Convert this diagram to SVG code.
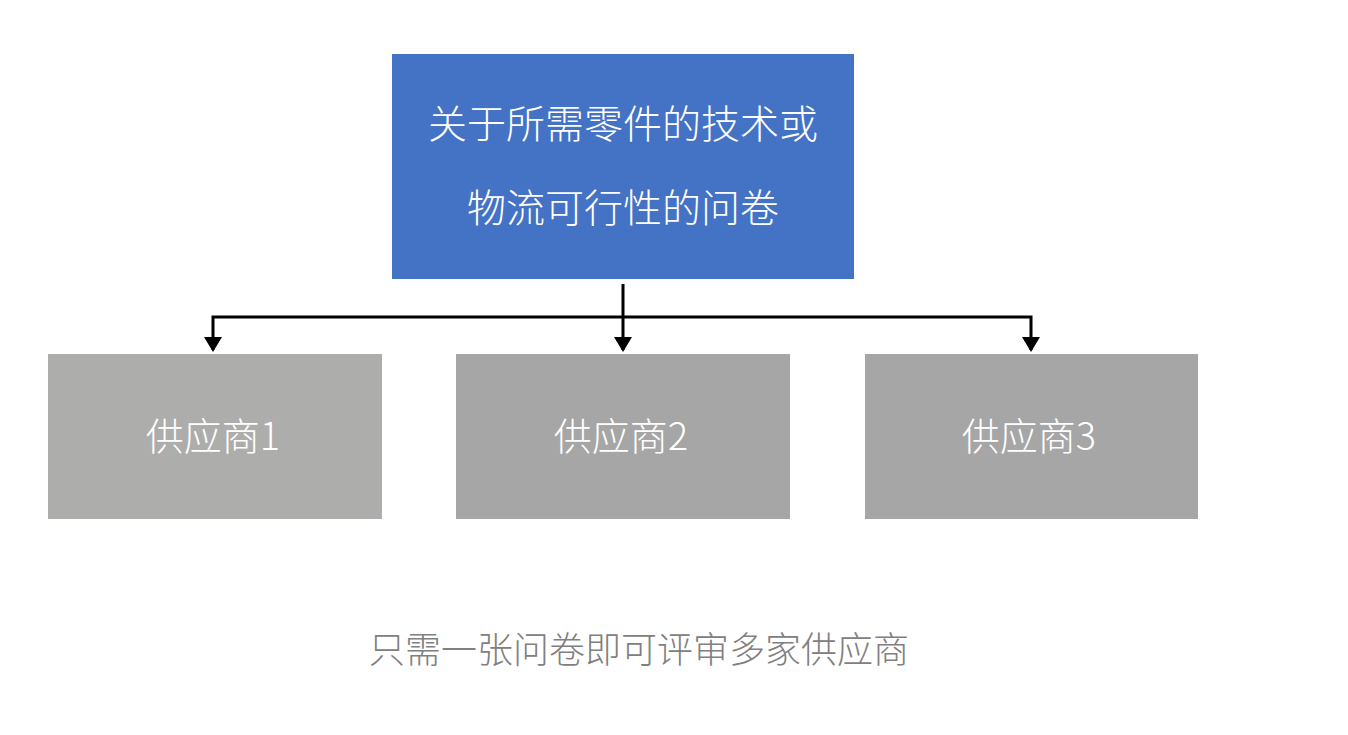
<svg xmlns="http://www.w3.org/2000/svg" width="1348" height="735" viewBox="0 0 1348 735">
<style>
.t{font-family:"Noto Sans CJK SC","Noto Sans",sans-serif;font-size:38px;font-weight:300;text-anchor:middle}
.w{fill:#ffffff}
.c{fill:none;stroke:#000;stroke-width:3}
</style>
<defs>
<marker id="ah" markerUnits="userSpaceOnUse" viewBox="0 0 15 18" refX="13" refY="9" markerWidth="15" markerHeight="18" orient="auto">
<path d="M0,0 L15,9 L0,18 z" fill="#000"/>
</marker>
</defs>
<rect width="1348" height="735" fill="#fff"/>
<g id="top">
<rect x="392" y="54" width="462" height="225" fill="#4472c4"/>
<text class="t w" x="623" y="138" style="font-size:39px">关于所需零件的技术或</text>
<text class="t w" x="623" y="222" style="font-size:39px">物流可行性的问卷</text>
</g>
<g id="s1">
<rect x="48" y="354" width="334" height="165" fill="#adadac"/>
<text class="t w" x="213" y="450">供应商1</text>
</g>
<g id="s2">
<rect x="456" y="354" width="334" height="165" fill="#a5a6a5"/>
<text class="t w" x="621" y="450">供应商2</text>
</g>
<g id="s3">
<rect x="865" y="354" width="333" height="165" fill="#a5a6a5"/>
<text class="t w" x="1029" y="450">供应商3</text>
</g>
<g id="connectors">
<path class="c" d="M623,284 V350" marker-end="url(#ah)"/>
<path class="c" d="M623,317 H213 V350" marker-end="url(#ah)"/>
<path class="c" d="M623,317 H1031 V350" marker-end="url(#ah)"/>
</g>
<text class="t" x="639" y="663" fill="#808080" style="font-size:36px">只需一张问卷即可评审多家供应商</text>
</svg>
